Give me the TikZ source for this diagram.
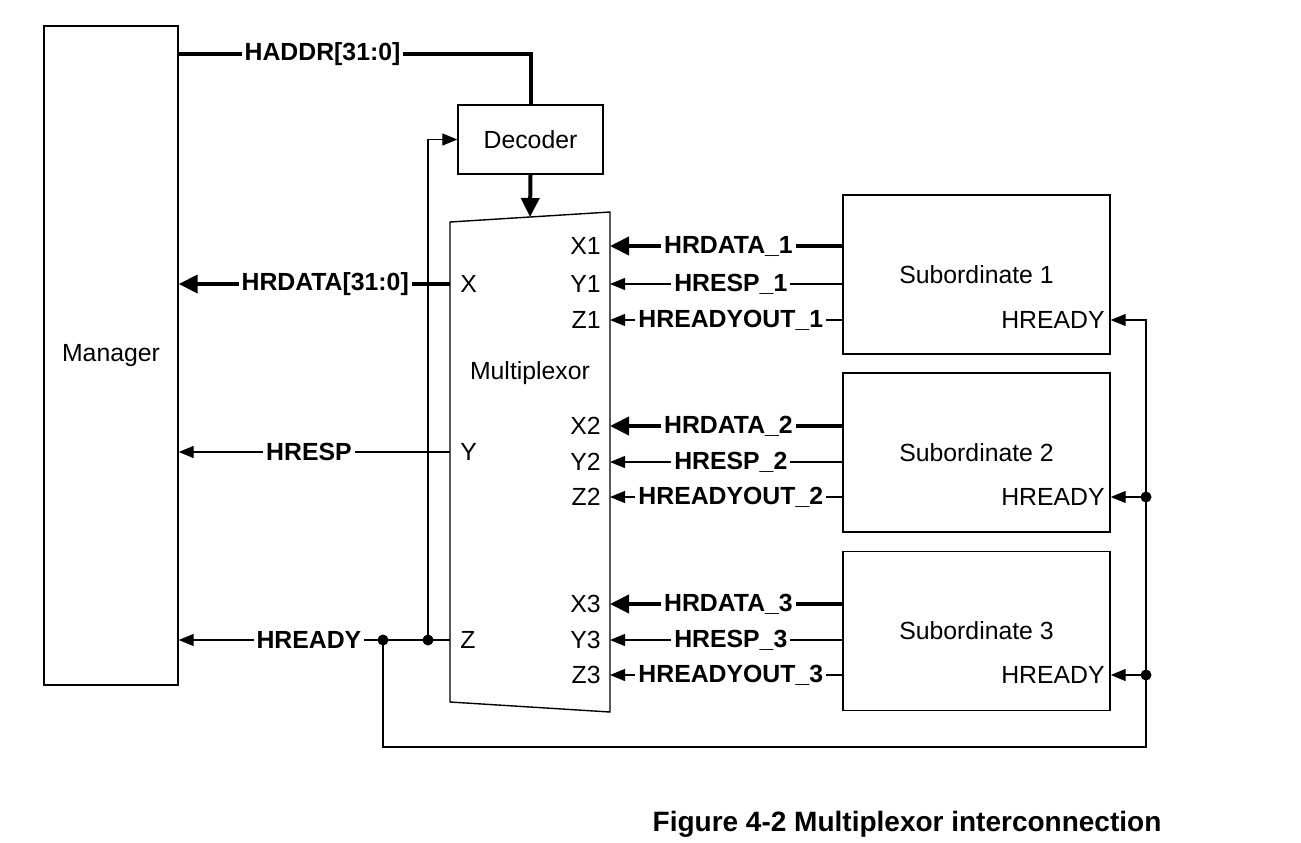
\documentclass[tikz,border=0pt]{standalone}
\usepackage{fontspec}
\setmainfont{Liberation Sans}
\usetikzlibrary{arrows.meta}

\tikzset{
  box/.style={draw, line width=0.7pt, inner sep=0pt},
  sig/.style={line width=0.65pt, -{Triangle[length=7.5pt,width=6pt]}},
  bus/.style={line width=2pt, -{Triangle[length=9.5pt,width=9pt]}},
  lbl/.style={fill=white, font=\fontsize{12.4}{15}\selectfont\bfseries, inner xsep=1.5pt, inner ysep=0pt},
  port/.style={inner sep=0pt},
  dot/.style={circle, fill, inner sep=0pt, minimum size=5.5pt},
}

\begin{document}
\begin{tikzpicture}[x=0.5pt, y=-0.5pt, font=\fontsize{12.4}{15}\selectfont]
\useasboundingbox (0,0) rectangle (1301,842);

% blocks
\node[box, minimum width=67pt, minimum height=329.5pt] (mgr) at (111,355.5) {Manager};
\node[box, minimum width=72.5pt, minimum height=34.5pt] (dec) at (530.5,139.5) {Decoder};
\foreach \i/\y/\r in {1/274.5/320, 2/452.5/497, 3/631/675} {
  \node[box, minimum width=133.5pt, minimum height=79.5pt] (sub\i) at (976.5,\y) {Subordinate \i};
  \node[port, anchor=east] (rdy\i) at (1105,\r) {HREADY};
}

% multiplexor
\coordinate (mtl) at (450,222);
\coordinate (mtr) at (610,212);
\coordinate (mbr) at (610,712);
\coordinate (mbl) at (450,702);
\coordinate (mtop) at (530,217);
\draw[line width=0.7pt] (mtl) -- (mtr) -- (mbr) -- (mbl) -- cycle;
\node (mux) at (530,373) {Multiplexor};

\foreach \p/\y in {X/284, Y/452, Z/640} {
  \node[port, anchor=west] (p\p) at (460,\y) {\p};
  \coordinate (m\p) at (450,\y);
}

% subordinate side
\foreach \i/\a/\b/\c in {1/246/284/320, 2/426/462/497, 3/604/640/675} {
  \node[port, anchor=east] (px\i) at (601,\a) {X\i};
  \node[port, anchor=east] (py\i) at (601,\b) {Y\i};
  \node[port, anchor=east] (pz\i) at (601,\c) {Z\i};
  \draw[bus] (sub\i.west |- px\i) -- node[lbl, pos=0.49] {HRDATA\_\i} (610,\a);
  \draw[sig] (sub\i.west |- py\i) -- node[lbl, pos=0.48] {HRESP\_\i} (610,\b);
  \draw[sig] (sub\i.west |- pz\i) -- node[lbl, pos=0.48] {HREADYOUT\_\i} (610,\c);
}

% manager side
\coordinate (ma) at (178,54);
\draw[line width=2pt] (ma) -- node[lbl, pos=0.41] {HADDR[31:0]} (ma -| dec) -- (dec.north);
\draw[bus] (dec.south) -- (mtop);
\draw[bus] (mX) -- node[lbl, pos=0.46] {HRDATA[31:0]} (mgr.east |- mX);
\draw[sig] (mY) -- node[lbl, pos=0.52] {HRESP} (mgr.east |- mY);
\draw[sig] (mZ) -- node[lbl, pos=0.52] {HREADY} (mgr.east |- mZ);

% HREADY feedback
\node[dot] (d1) at (428,640) {};
\node[dot] (d2) at (383,640) {};
\node[dot] (d3) at (1146,497) {};
\node[dot] (d4) at (1146,675) {};
\coordinate (c1) at (383,747);
\coordinate (c2) at (1146,747);
\draw[sig] (d1.center) -- (d1 |- dec.west) -- (dec.west);
\draw[sig] (d2.center) -- (c1) -- (c2) -- (c2 |- rdy1) -- (sub1.east |- rdy1);
\draw[sig] (d3.center) -- (sub2.east |- d3);
\draw[sig] (d4.center) -- (sub3.east |- d4);

\node[font=\fontsize{14}{17}\selectfont\bfseries] (cap) at (907,824) {Figure 4-2 Multiplexor interconnection};
\end{tikzpicture}
\end{document}
